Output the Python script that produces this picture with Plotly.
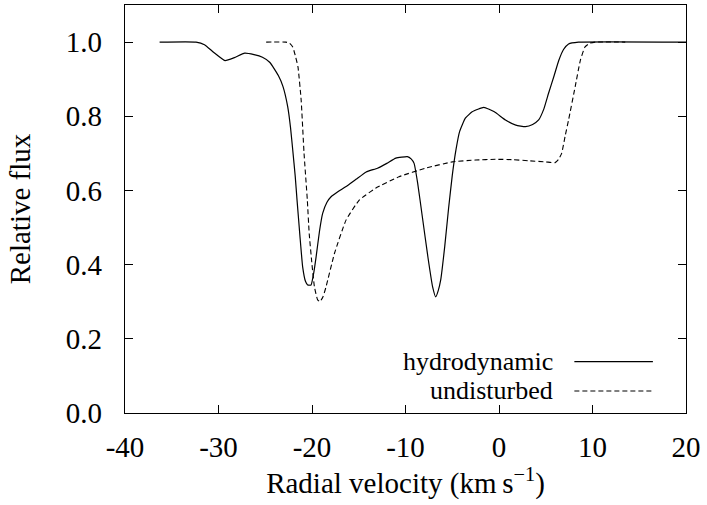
import plotly.graph_objects as go

# Hydrodynamic profile
hyd_x = [-36.3, -32.4, -31.5, -30.5, -29.3, -28.3, -27.2, -26.2, -25.3, -24.5, -23.6, -23.1,
         -22.6, -22.3, -22.06, -21.8, -21.6, -21.3, -21.0, -20.7, -20.46, -20.1, -19.8, -19.56,
         -19.2, -18.86, -18.4, -17.96, -17.2, -16.4, -15.3, -14.2, -13.0, -12.0, -11.03, -9.8,
         -9.4, -9.08, -8.7, -8.2, -7.6, -7.1, -6.77, -6.5, -6.24, -5.8, -5.4, -5.0, -4.6, -4.2,
         -3.6, -2.87, -1.62, -0.5, 0.69, 1.8, 2.83, 3.6, 4.24, 4.8, 5.3, 5.9, 6.4, 6.9, 7.44,
         8.5, 20.0]
hyd_y = [1.0, 1.0, 0.993, 0.972, 0.950, 0.958, 0.970, 0.966, 0.959, 0.945, 0.91, 0.88,
         0.826, 0.77, 0.709, 0.64, 0.574, 0.48, 0.394, 0.355, 0.345, 0.345, 0.38, 0.421,
         0.49, 0.538, 0.568, 0.583, 0.597, 0.61, 0.63, 0.650, 0.66, 0.673, 0.687, 0.691,
         0.685, 0.673, 0.62, 0.529, 0.42, 0.34, 0.313, 0.33, 0.358, 0.45, 0.55, 0.64, 0.71, 0.76,
         0.795, 0.812, 0.824, 0.812, 0.790, 0.776, 0.772, 0.778, 0.79, 0.82, 0.862, 0.91, 0.951, 0.98, 0.995,
         1.0, 1.0]

# Undisturbed profile
und_x = [-24.9, -22.8, -22.4, -22.06, -21.75, -21.5, -21.16, -20.85, -20.5, -20.3, -20.0, -19.74,
         -19.4, -19.14, -18.8, -18.5, -17.6, -16.36, -14.95, -13.2, -10.7, -7.85, -5.0, -2.5,
         -0.37, 1.5, 3.18, 5.0, 6.0, 6.4, 6.7, 7.1, 7.44, 8.15, 8.7, 9.2, 9.7, 10.3, 13.5]
und_y = [1.0, 1.0, 0.997, 0.987, 0.96, 0.933, 0.844, 0.70, 0.574, 0.484, 0.40, 0.34,
         0.305, 0.30, 0.315, 0.34, 0.43, 0.52, 0.574, 0.606, 0.637, 0.66, 0.677, 0.682,
         0.684, 0.683, 0.680, 0.677, 0.675, 0.685, 0.70, 0.75, 0.79, 0.88, 0.951, 0.987, 0.997, 1.0, 1.0]

x_ticks = [-40, -30, -20, -10, 0, 10, 20]
x_ticklabels = ["-40", "-30", "-20", "-10", "0", "10", "20"]
y_ticks = [0.0, 0.2, 0.4, 0.6, 0.8, 1.0]
y_ticklabels = ["0.0", "0.2", "0.4", "0.6", "0.8", "1.0"]
legend_names = ["hydrodynamic", "undisturbed"]

FONT = "Liberation Serif"

fig = go.Figure()
fig.add_trace(go.Scatter(x=hyd_x, y=hyd_y, mode="lines", name=legend_names[0],
                         line=dict(color="black", width=1.2, shape="spline", smoothing=0.4),
                         showlegend=False))
fig.add_trace(go.Scatter(x=und_x, y=und_y, mode="lines", name=legend_names[1],
                         line=dict(color="black", width=1.1, dash="5px,3px", shape="spline", smoothing=0.4),
                         showlegend=False))

# legend imitation (text right-aligned, sample on right)
leg_y = [0.126, 0.054]
leg_dash = ["solid", "5px,3px"]
for name, yy, dsh in zip(legend_names, leg_y, leg_dash):
    fig.add_annotation(x=0.767, y=yy, xref="paper", yref="paper", text=name,
                       showarrow=False, xanchor="right", yanchor="middle",
                       font=dict(family=FONT, size=26, color="black"))
    fig.add_shape(type="line", xref="paper", yref="paper", x0=0.801, x1=0.941, y0=yy, y1=yy,
                  line=dict(color="black", width=1.1, dash=dsh))

axis_common = dict(showgrid=False, zeroline=False, showline=True, linecolor="black", linewidth=1.2,
                   mirror="allticks", ticks="inside", ticklen=8, tickwidth=1.2, tickcolor="black",
                   tickfont=dict(family=FONT, size=29, color="black"))

fig.update_xaxes(range=[-40, 20], tickvals=x_ticks, ticktext=x_ticklabels,
                 title=dict(text="Radial velocity (km\u2009s<sup>\u22121</sup>)",
                            font=dict(family=FONT, size=29, color="black"), standoff=8),
                 ticklabelstandoff=8, **axis_common)
fig.update_yaxes(range=[0, 1.1], tickvals=y_ticks, ticktext=y_ticklabels,
                 title=dict(text="Relative flux", font=dict(family=FONT, size=29, color="black"), standoff=26),
                 ticklabelstandoff=16, **axis_common)

fig.update_layout(width=707, height=505, margin=dict(l=125, r=21, t=5, b=92),
                  paper_bgcolor="white", plot_bgcolor="white")

fig.write_html("out.html")
